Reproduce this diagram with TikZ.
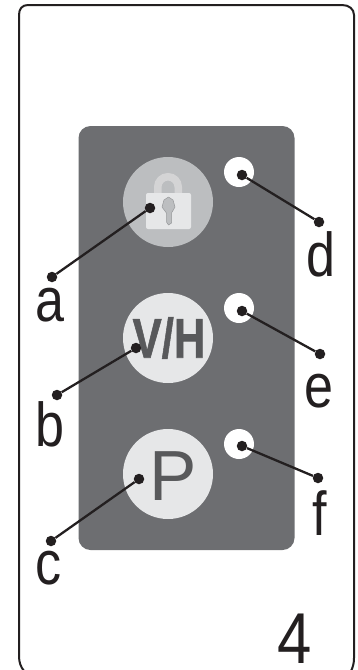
\documentclass[tikz,border=0pt]{standalone}
\usepackage{fontspec}
\setmainfont{Liberation Sans}
\newfontfamily\vhfont[FakeBold=1.2]{Liberation Sans Bold}
\definecolor{panel}{HTML}{6D6E71}
\definecolor{ink}{HTML}{231F20}
\definecolor{lockbg}{HTML}{BCBEC0}
\definecolor{lockfg}{HTML}{E6E7E8}
\definecolor{btn}{HTML}{E6E7E8}
\definecolor{glyph}{HTML}{58595B}
\tikzset{
  btncircle/.style={circle,minimum size=90pt,inner sep=0pt,fill=#1},
  led/.style={circle,minimum size=30pt,inner sep=0pt,fill=white},
  tip/.style={circle,minimum size=10.5pt,inner sep=0pt,fill=ink},
  leader/.style={draw=ink,line width=2.3pt},
  letter/.style={inner sep=0pt,anchor=base,text=ink,xscale=.84,font=\fontsize{62}{62}\selectfont},
}
\begin{document}
\begin{tikzpicture}[x=1pt,y=-1pt]
\useasboundingbox (0,0) rectangle (357,670);
\draw[ink,line width=2pt] (24,671) .. controls (21,667) and (19,663) .. (19,656) -- (19,15) .. controls (19,9) and (22,5) .. (28,5) -- (342,5) .. controls (349,5) and (354,9) .. (354,15) -- (354,658) .. controls (354,663) and (353,667) .. (351,671);
\fill[panel,rounded corners=12pt] (78.5,126) rectangle (294.5,550);
\node[btncircle=lockbg] (btnA) at (168,202) {};
\node[btncircle=btn] (btnB) at (168,338) {};
\node[btncircle=btn] (btnC) at (168,474) {};
\node[led] (ledD) at (239,172) {};
\node[led] (ledE) at (239,308) {};
\node[led] (ledF) at (239,444) {};
% padlock
\draw[lockfg!92!black,line width=7.5pt] (157.75,195) -- (157.75,187) arc[start angle=180,end angle=0,x radius=10.25,y radius=-10.25] -- (178.25,195);
\fill[lockfg,rounded corners=2pt] (146,193) rectangle (191,229);
\filldraw[fill=lockbg,draw=lockbg!80!black,line width=.5pt,line join=round] (168.5,197) -- (173,200) -- (175,207) -- (171.5,213) -- (171.5,223) -- (168.5,225) -- (166.5,222) -- (166.5,213) -- (162,207) -- (164,200) -- cycle;
\node[inner sep=0pt,text=glyph,xscale=.78,font=\vhfont\fontsize{56}{56}\selectfont] (vh) at (169,338) {V/H};
\node[inner sep=0pt,text=glyph,font=\fontsize{71}{71}\selectfont] (pp) at (173,476.5) {P};
\node[tip] (tipA) at (150,208) {};
\node[tip] (tipB) at (136,348) {};
\node[tip] (tipC) at (139,479) {};
\node[tip] (tipD) at (242,175) {};
\node[tip] (tipE) at (242,311) {};
\node[tip] (tipF) at (242,446) {};
\node[tip] (endA) at (52,277) {};
\node[tip] (endB) at (57,395) {};
\node[tip] (endC) at (51,541) {};
\node[tip] (endD) at (319,222) {};
\node[tip] (endE) at (320,354) {};
\node[tip] (endF) at (318,478) {};
\draw[leader] (tipA) -- (endA);
\draw[leader] (tipB) -- (endB);
\draw[leader] (tipC) -- (endC);
\draw[leader] (tipD) -- (endD);
\draw[leader] (tipE) -- (endE);
\draw[leader] (tipF) -- (endF);
\node[letter] (la) at (50,321) {a};
\node[letter] (lb) at (49.5,446) {b};
\node[letter] (lc) at (48.5,584) {c};
\node[letter] (ld) at (320.5,276) {d};
\node[letter] (le) at (319,407) {e};
\node[letter] (lf) at (320,535) {f};
\node[letter,xscale=1.02,font=\fontsize{72}{72}\selectfont] (num) at (294.5,663) {4};
\end{tikzpicture}
\end{document}
